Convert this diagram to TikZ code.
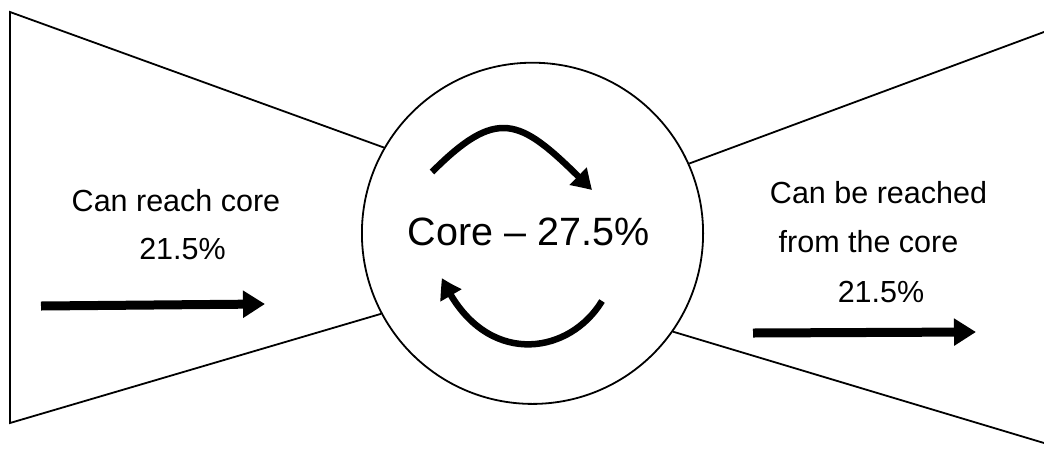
\documentclass[tikz,border=0pt]{standalone}
\usepackage{fontspec}
\setmainfont{Liberation Sans}
\usetikzlibrary{arrows.meta,bending}
\begin{document}
\begin{tikzpicture}[x=1pt,y=-1pt,
  outline/.style={line width=1.8pt, line join=miter},
  bigarrow/.style={line width=9pt, -{Triangle[length=22pt,width=26pt]}},
  cyclearrow/.style={line width=6.5pt, -{Triangle[length=20pt,width=23pt,bend]}},
  sidetext/.style={anchor=base, inner sep=0pt, font=\fontsize{30.5}{36}\selectfont},
  coretext/.style={anchor=base, inner sep=0pt, font=\fontsize{39.5}{46}\selectfont}]
\useasboundingbox (0,0) rectangle (1044,448);
% core circle
\node[circle, draw, outline, minimum size=341.2pt, inner sep=0pt] (core) at (532.5,233.3) {};
\node[coretext] (corelabel) at (528.5,245) {Core -- 27.5\%};
% left funnel
\coordinate (L1) at (10,12);
\coordinate (L2) at (10,423);
\draw[outline] (core.150) -- (L1) -- (L2) -- (core.208.6);
% right funnel
\coordinate (R1) at (1048,30.5);
\coordinate (R2) at (1048,444.2);
\draw[outline] (core.24.5) -- (R1);
\draw[outline] (core.-35.1) -- (R2);
% texts
\node[sidetext] (in1) at (176,211) {Can reach core};
\node[sidetext] (in2) at (182.5,259) {21.5\%};
\node[sidetext] (out1) at (878.5,203) {Can be reached};
\node[sidetext] (out2) at (868.5,252) {from the core};
\node[sidetext] (out3) at (881,302) {21.5\%};
% straight arrows
\coordinate (la1) at (41,306);
\coordinate (la2) at (265,304);
\draw[bigarrow] (la1) -- (la2);
\coordinate (ra1) at (753,333);
\coordinate (ra2) at (976,332);
\draw[bigarrow] (ra1) -- (ra2);
% cycle arrows
\coordinate (t1) at (432,172);
\coordinate (t2) at (592,190);
\draw[cyclearrow] (t1) .. controls (501.5,102.5) and (522.5,120.5) .. (t2);
\coordinate (b1) at (602,301);
\coordinate (b2) at (442,278);
\draw[cyclearrow] (b1) .. controls (568,357) and (482,368) .. (b2);
\end{tikzpicture}
\end{document}
